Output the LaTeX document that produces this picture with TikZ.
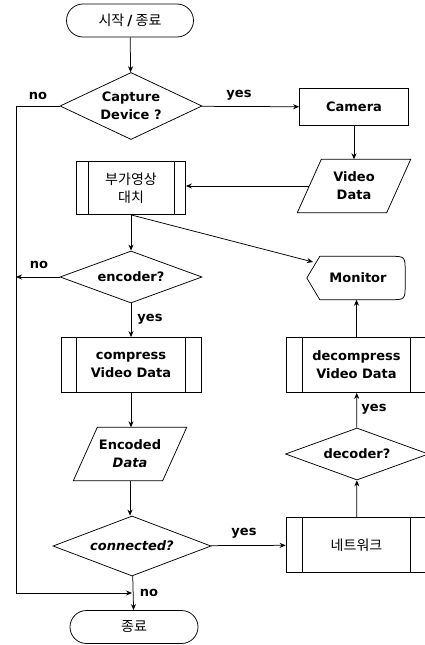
\documentclass[tikz,border=0pt]{standalone}
\usepackage{fontspec}
\setmainfont{DejaVu Sans}
\newfontfamily\kr{Noto Sans CJK KR}
\usetikzlibrary{shapes.geometric,shapes.misc,arrows.meta}
\tikzset{
  ln/.style={draw=black, line width=0.75pt},
  base/.style={ln, font=\bfseries\fontsize{13}{18}\selectfont, align=center, inner sep=0pt},
  term/.style={base, rounded rectangle, minimum width=128pt, minimum height=33pt},
  dec/.style={base, diamond, aspect=2.5},
  proc/.style={base, rectangle},
  iotext/.style={font=\bfseries\fontsize{13}{18}\selectfont, align=center, inner sep=0pt, minimum width=89pt, minimum height=53pt},
  lab/.style={font=\bfseries\fontsize{13}{15}\selectfont, inner sep=0pt},
  arr/.style={ln, -{Stealth[length=6pt,width=5pt]}},
  krt/.style={font=\kr\fontsize{14}{18}\selectfont}
}
\begin{document}
\begin{tikzpicture}[x=1pt,y=-1pt]
\useasboundingbox (0,0) rectangle (425,645);
\clip (0,0) rectangle (425,645);
\fill[white] (0,0) rectangle (425,645);

% nodes
\node[term, krt, minimum width=127pt] (start) at (130,20.5) {시작 {\fontspec{DejaVu Sans}\bfseries /} 종료};
\node[dec, minimum width=142pt, minimum height=67pt] (cap) at (131,106) {Capture\\Device ?};
\node[proc, minimum width=109pt, minimum height=37pt] (cam) at (354,107) {Camera};
\node[iotext] (vd) at (354,186) {Video\\Data};
\node[proc, krt, minimum width=109pt, minimum height=53pt] (addon) at (131,188) {부가영상\\대치};
\node[dec, minimum width=142pt, minimum height=52pt] (enc) at (131,277) {encoder?};
\node[font=\bfseries\fontsize{13}{18}\selectfont, inner sep=0pt, minimum width=98pt, minimum height=43pt] (mon) at (356,278) {\hspace{4pt}Monitor};
\node[proc, minimum width=140pt, minimum height=55pt] (comp) at (131,365) {compress\\Video Data};
\node[iotext] (ed) at (130,454) {Encoded\\\textit{Data}};
\node[dec, minimum width=158pt, minimum height=60pt] (conn) at (132,546) {\textit{connected?}};
\node[proc, krt, minimum width=141pt, minimum height=55pt] (net) at (356.5,545) {네트워크};
\node[dec, minimum width=143pt, minimum height=52pt] (decd) at (357,454) {decoder?};
\node[proc, minimum width=141pt, minimum height=55pt] (dcomp) at (356.5,365) {decompress\\Video Data};
\node[term, krt] (end) at (134,627) {종료};

% parallelograms
\foreach \n in {vd, ed}{
  \draw[ln] ([xshift=-12pt]\n.south west) -- ([xshift=12pt]\n.north west) -- ([xshift=12pt]\n.north east) -- ([xshift=-12pt]\n.south east) -- cycle;
}
% monitor (display shape)
\draw[ln] (mon.west) -- ([xshift=13pt]mon.north west) -- ([xshift=-15pt]mon.north east)
  .. controls (mon.north east) .. ([yshift=-16pt]mon.north east)
  -- ([yshift=16pt]mon.south east)
  .. controls (mon.south east) .. ([xshift=-15pt]mon.south east)
  -- ([xshift=13pt]mon.south west) -- cycle;

% predefined-process side bars
\foreach \n/\d in {addon/12, comp/16, dcomp/17, net/17}{
  \draw[ln] ([xshift=\d pt]\n.north west) -- ([xshift=\d pt]\n.south west)
            ([xshift=-\d pt]\n.north east) -- ([xshift=-\d pt]\n.south east);
}

% coordinates
\coordinate (c1) at (16,106);
\coordinate (c2) at (16,593);
\coordinate (j) at (132,593);
\coordinate (mtip) at (313,262);

% connectors
\draw[arr] (start) -- (cap);
\draw[arr] (cap) -- (cam);
\draw[arr] (cam) -- (vd.north -| cam.south);
\draw[arr] (vd.west) -- (vd.west -| addon.east);
\draw[arr] (addon) -- (enc);
\draw[arr] (addon.south) -- (mtip);
\draw[ln] (cap.west) -- (c1) -- (c2);
\draw[arr] (c2) -- (j);
\draw[arr] (enc.west) -- (enc.west -| c1);
\draw[arr] (enc) -- (comp);
\draw[arr] (comp) -- (ed.north -| comp.south);
\draw[arr] (ed.south) -- (conn.north -| ed.south);
\draw[arr] (conn) -- (net);
\draw[arr] (conn) -- (end);
\draw[arr] (net) -- (decd);
\draw[arr] (decd) -- (dcomp);
\draw[arr] (dcomp.north) -- (dcomp.north |- mon.south);

% labels
\node[lab] (l1) at (38,96) {no};
\node[lab] (l2) at (239,95) {yes};
\node[lab] (l3) at (39,265) {no};
\node[lab] (l4) at (150,319) {yes};
\node[lab] (l5) at (244,533) {yes};
\node[lab] (l6) at (149,593) {no};
\node[lab] (l7) at (374,409) {yes};
\end{tikzpicture}
\end{document}
